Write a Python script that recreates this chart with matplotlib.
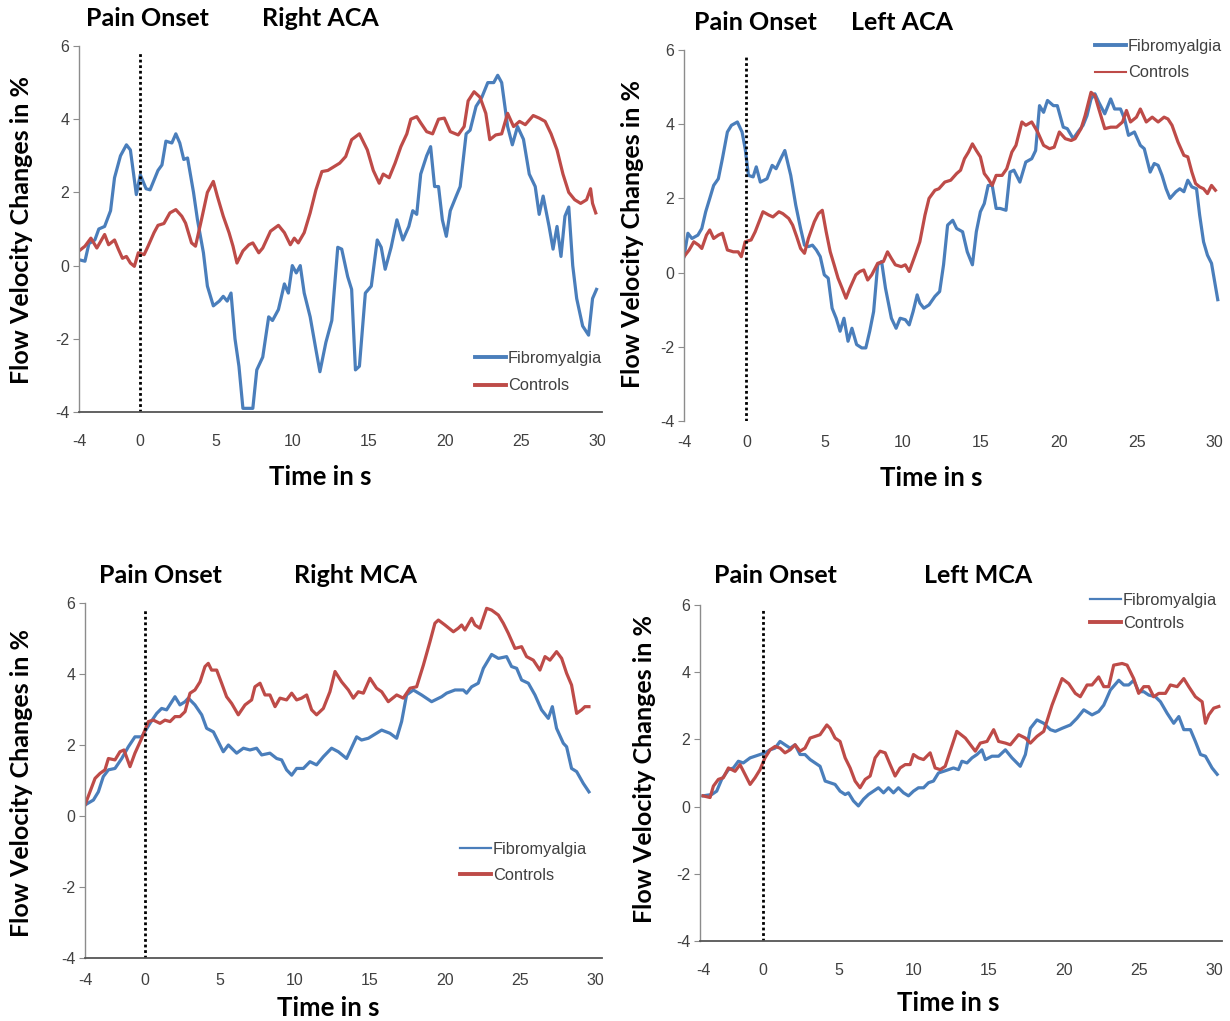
import numpy as np
import matplotlib
matplotlib.use("Agg")
import matplotlib.pyplot as plt

plt.rcParams["axes.unicode_minus"] = False

# ---------------- data ----------------
# Right ACA
t_raca_fib = [-4.0, -3.61, -3.35, -2.96, -2.70, -2.32, -1.93, -1.67, -1.28, -0.89,
              -0.63, -0.24, 0.02, 0.40, 0.66, 1.18, 1.44, 1.70, 2.09, 2.35,
              2.61, 2.87, 3.12, 3.51, 3.77, 4.16, 4.42, 4.81, 5.20, 5.46,
              5.72, 5.97, 6.23, 6.49, 6.75, 7.14, 7.40, 7.66, 8.05, 8.44,
              8.69, 9.08, 9.47, 9.73, 9.99, 10.25, 10.51, 10.77, 11.16, 11.54,
              11.80, 12.19, 12.58, 12.97, 13.23, 13.62, 13.88, 14.13, 14.39, 14.78,
              15.17, 15.56, 15.82, 16.08, 16.47, 16.85, 17.24, 17.63, 17.89, 18.15,
              18.41, 18.80, 19.06, 19.32, 19.58, 19.83, 20.09, 20.35, 20.74, 21.0,
              21.39, 21.65, 22.04, 22.42, 22.81, 23.20, 23.46, 23.72, 24.11, 24.42,
              24.76, 25.15, 25.53, 25.92, 26.18, 26.44, 26.83, 27.09, 27.35, 27.61,
              27.87, 28.12, 28.38, 28.64, 29.03, 29.42, 29.68, 29.94]
v_raca_fib = [0.16, 0.12, 0.6, 0.7, 1.0, 1.07, 1.5, 2.4, 3.0, 3.3,
              3.16, 1.94, 2.48, 2.1, 2.07, 2.6, 2.75, 3.4, 3.35, 3.6,
              3.35, 2.9, 2.94, 2.0, 1.25, 0.35, -0.56, -1.1, -0.97, -0.84,
              -0.97, -0.75, -2.0, -2.75, -3.9, -3.9, -3.9, -2.85, -2.5, -1.4,
              -1.5, -1.2, -0.5, -0.75, 0.0, -0.2, 0.0, -0.75, -1.4, -2.3,
              -2.9, -2.1, -1.5, 0.5, 0.45, -0.3, -0.65, -2.85, -2.75, -0.75,
              -0.56, 0.7, 0.5, -0.1, 0.5, 1.25, 0.7, 1.07, 1.5, 1.4,
              2.5, 3.0, 3.25, 2.16, 2.16, 1.25, 0.8, 1.5, 1.9, 2.16,
              3.6, 3.7, 4.35, 4.6, 5.0, 5.0, 5.2, 5.0, 3.8, 3.3,
              3.8, 3.45, 2.5, 2.16, 1.4, 1.9, 1.07, 0.45, 1.07, 0.25,
              1.35, 1.6, 0.0, -0.9, -1.65, -1.9, -0.9, -0.65]
t_raca_con = [-4.0, -3.61, -3.22, -2.83, -2.58, -2.32, -2.06, -1.67, -1.41, -1.15,
              -0.89, -0.63, -0.37, -0.11, 0.27, 0.53, 0.92, 1.18, 1.57, 1.96,
              2.35, 2.74, 2.99, 3.38, 3.64, 4.03, 4.42, 4.81, 5.07, 5.46,
              5.84, 6.10, 6.36, 6.75, 7.14, 7.40, 7.79, 8.05, 8.56, 9.08,
              9.47, 9.86, 10.12, 10.38, 10.77, 11.16, 11.54, 11.93, 12.32, 12.71,
              13.10, 13.49, 13.88, 14.39, 14.91, 15.30, 15.69, 15.95, 16.34, 16.73,
              17.11, 17.50, 17.76, 18.15, 18.41, 18.80, 19.19, 19.58, 19.96, 20.35,
              20.87, 21.26, 21.52, 21.91, 22.30, 22.68, 22.94, 23.33, 23.72, 24.11,
              24.50, 24.89, 25.27, 25.79, 26.18, 26.57, 26.96, 27.35, 27.74, 28.12,
              28.51, 28.90, 29.29, 29.55, 29.68, 29.89]
v_raca_con = [0.4, 0.53, 0.75, 0.48, 0.66, 0.85, 0.57, 0.7, 0.44, 0.2,
              0.25, 0.07, -0.02, 0.35, 0.3, 0.53, 0.9, 1.1, 1.15, 1.44,
              1.53, 1.35, 1.16, 0.62, 0.53, 1.25, 2.0, 2.3, 1.9, 1.35,
              0.9, 0.53, 0.07, 0.4, 0.57, 0.62, 0.35, 0.48, 0.94, 1.1,
              0.9, 0.57, 0.75, 0.62, 0.9, 1.44, 2.07, 2.57, 2.6, 2.7,
              2.8, 2.98, 3.44, 3.6, 3.16, 2.6, 2.25, 2.5, 2.4, 2.8,
              3.25, 3.6, 4.0, 4.07, 3.9, 3.66, 3.6, 4.0, 4.03, 3.66,
              3.57, 3.8, 4.5, 4.75, 4.6, 4.16, 3.44, 3.57, 3.6, 4.16,
              3.8, 3.94, 3.85, 4.1, 4.03, 3.94, 3.6, 3.16, 2.5, 2.0,
              1.8, 1.7, 1.8, 2.1, 1.7, 1.44]

# Left ACA
t_laca_fib = [-4.0, -3.75, -3.49, -3.11, -2.86, -2.61, -2.35, -2.10, -1.80, -1.54,
              -1.22, -0.96, -0.58, -0.28, -0.08, 0.13, 0.43, 0.63, 0.89, 1.32,
              1.65, 1.90, 2.20, 2.46, 2.84, 3.16, 3.47, 3.72, 3.97, 4.23,
              4.48, 4.73, 4.99, 5.24, 5.49, 5.75, 6.0, 6.25, 6.51, 6.76,
              7.06, 7.39, 7.65, 7.90, 8.15, 8.41, 8.66, 8.91, 9.29, 9.59,
              9.85, 10.18, 10.43, 10.68, 10.94, 11.11, 11.37, 11.70, 12.08, 12.38,
              12.63, 12.89, 13.22, 13.47, 13.85, 14.15, 14.48, 14.73, 14.99, 15.24,
              15.49, 15.75, 16.0, 16.25, 16.63, 16.89, 17.14, 17.52, 17.90, 18.28,
              18.53, 18.78, 19.04, 19.29, 19.67, 19.92, 20.30, 20.56, 20.94, 21.24,
              21.57, 21.82, 22.08, 22.33, 22.58, 22.96, 23.34, 23.59, 23.97, 24.23,
              24.48, 24.86, 25.24, 25.49, 25.87, 26.13, 26.38, 26.63, 26.89, 27.14,
              27.52, 27.77, 28.03, 28.28, 28.54, 28.84, 29.04, 29.29, 29.54, 29.80,
              30.0, 30.2]
v_laca_fib = [0.43, 1.06, 0.92, 1.01, 1.19, 1.64, 2.0, 2.35, 2.53, 3.07,
              3.79, 3.97, 4.06, 3.79, 3.34, 2.62, 2.58, 2.85, 2.44, 2.53,
              2.89, 2.80, 3.07, 3.29, 2.62, 1.82, 1.19, 0.74, 0.70, 0.74,
              0.61, 0.43, -0.06, -0.15, -0.96, -1.23, -1.58, -1.23, -1.85, -1.50,
              -1.94, -2.03, -2.03, -1.58, -1.05, 0.21, 0.30, -0.42, -1.23, -1.50,
              -1.23, -1.27, -1.41, -1.05, -0.60, -0.82, -0.96, -0.87, -0.64, -0.51,
              0.21, 1.28, 1.41, 1.19, 1.10, 0.56, 0.21, 1.10, 1.64, 1.86,
              2.35, 2.35, 1.73, 1.73, 1.68, 2.71, 2.76, 2.44, 2.98, 3.07,
              3.29, 4.50, 4.32, 4.64, 4.50, 4.50, 3.92, 3.88, 3.61, 3.79,
              3.97, 4.23, 4.68, 4.82, 4.59, 4.28, 4.68, 4.41, 4.41, 4.14,
              3.70, 3.79, 3.43, 3.34, 2.71, 2.94, 2.89, 2.62, 2.26, 2.0,
              2.18, 2.26, 2.18, 2.49, 2.31, 2.26, 1.55, 0.83, 0.47, 0.25,
              -0.24, -0.73]
t_laca_con = [-4.0, -3.67, -3.37, -3.06, -2.86, -2.56, -2.35, -2.10, -1.80, -1.54,
              -1.22, -0.84, -0.53, -0.33, -0.08, 0.30, 0.56, 0.81, 1.06, 1.44,
              1.70, 2.08, 2.33, 2.71, 2.96, 3.22, 3.47, 3.72, 3.97, 4.35,
              4.61, 4.86, 5.11, 5.37, 5.62, 5.87, 6.13, 6.38, 6.63, 7.01,
              7.27, 7.52, 7.77, 8.03, 8.41, 8.78, 9.04, 9.29, 9.54, 9.92,
              10.18, 10.43, 10.81, 11.11, 11.44, 11.70, 12.08, 12.33, 12.71, 13.09,
              13.47, 13.72, 13.97, 14.23, 14.48, 14.73, 14.99, 15.24, 15.49, 15.75,
              16.0, 16.38, 16.68, 17.01, 17.27, 17.65, 17.90, 18.28, 18.66, 19.04,
              19.42, 19.72, 20.05, 20.43, 20.81, 21.06, 21.44, 21.70, 22.08, 22.33,
              22.58, 22.96, 23.34, 23.72, 24.10, 24.35, 24.61, 24.99, 25.24, 25.62,
              26.0, 26.38, 26.76, 27.01, 27.27, 27.65, 28.03, 28.28, 28.54, 28.78,
              29.04, 29.29, 29.54, 29.80, 30.05]
v_laca_con = [0.43, 0.61, 0.83, 0.74, 0.65, 1.01, 1.15, 0.92, 1.01, 1.06,
              0.61, 0.56, 0.56, 0.43, 0.83, 0.88, 1.10, 1.37, 1.64, 1.55,
              1.50, 1.64, 1.59, 1.46, 1.28, 0.97, 0.65, 0.52, 0.92, 1.37,
              1.59, 1.68, 1.10, 0.56, 0.21, -0.15, -0.42, -0.69, -0.42, -0.06,
              0.03, 0.07, -0.20, -0.06, 0.25, 0.30, 0.56, 0.38, 0.21, 0.16,
              0.21, 0.03, 0.47, 0.83, 1.55, 2.0, 2.22, 2.26, 2.44, 2.49,
              2.67, 2.76, 3.07, 3.25, 3.47, 3.29, 3.12, 2.67, 2.53, 2.35,
              2.62, 2.62, 2.80, 3.25, 3.43, 4.06, 3.97, 4.06, 3.79, 3.43,
              3.34, 3.38, 3.79, 3.61, 3.56, 3.61, 3.88, 4.23, 4.86, 4.77,
              4.41, 3.88, 3.92, 3.92, 4.06, 4.37, 4.06, 4.19, 4.41, 4.06,
              4.19, 4.06, 4.19, 4.14, 3.97, 3.52, 3.16, 3.12, 2.71, 2.40,
              2.31, 2.26, 2.13, 2.35, 2.22]

# Right MCA
t_rmca_fib = [-4.0, -3.44, -3.11, -2.78, -2.44, -2.0, -1.55, -1.11, -0.67, -0.22,
              0.33, 0.78, 1.11, 1.44, 2.0, 2.33, 2.67, 2.89, 3.33, 3.78,
              4.11, 4.56, 4.89, 5.22, 5.56, 6.11, 6.56, 7.0, 7.44, 7.78,
              8.33, 8.78, 9.11, 9.44, 9.78, 10.11, 10.56, 11.0, 11.44, 11.89,
              12.44, 12.89, 13.44, 14.11, 14.44, 14.89, 15.78, 16.33, 16.78, 17.11,
              17.44, 17.89, 18.44, 19.11, 19.78, 20.11, 20.67, 21.22, 21.44, 21.78,
              22.22, 22.56, 23.11, 23.56, 24.11, 24.44, 24.78, 25.11, 25.56, 26.0,
              26.44, 26.89, 27.16, 27.44, 27.89, 28.11, 28.44, 28.78, 29.22, 29.6]
v_rmca_fib = [0.31, 0.45, 0.68, 1.11, 1.30, 1.34, 1.62, 1.95, 2.23, 2.23,
              2.61, 2.89, 3.03, 2.99, 3.36, 3.13, 3.22, 3.32, 3.13, 2.85,
              2.47, 2.37, 2.09, 1.81, 2.0, 1.77, 1.91, 1.86, 1.91, 1.72,
              1.77, 1.62, 1.58, 1.30, 1.15, 1.34, 1.34, 1.53, 1.44, 1.67,
              1.91, 1.81, 1.62, 2.23, 2.14, 2.19, 2.42, 2.33, 2.19, 2.66,
              3.41, 3.55, 3.41, 3.22, 3.36, 3.46, 3.55, 3.55, 3.46, 3.64,
              3.74, 4.16, 4.55, 4.44, 4.49, 4.21, 4.16, 3.83, 3.74, 3.41,
              2.99, 2.75, 3.08, 2.47, 2.05, 1.95, 1.34, 1.25, 0.92, 0.68]
t_rmca_con = [-4.0, -3.67, -3.33, -3.0, -2.67, -2.44, -2.0, -1.67, -1.4, -1.0,
              -0.67, -0.22, 0.22, 0.56, 1.0, 1.33, 1.67, 2.0, 2.33, 2.67,
              3.0, 3.33, 3.67, 4.0, 4.22, 4.44, 4.78, 5.11, 5.44, 5.78,
              6.22, 6.67, 7.11, 7.33, 7.67, 8.0, 8.33, 8.67, 9.0, 9.44,
              9.78, 10.11, 10.44, 10.78, 11.11, 11.44, 11.89, 12.33, 12.67, 13.11,
              13.56, 13.89, 14.22, 14.56, 15.0, 15.44, 15.78, 16.22, 16.78, 17.22,
              17.67, 18.11, 18.56, 19.0, 19.33, 19.56, 20.0, 20.56, 20.89, 21.11,
              21.33, 21.78, 22.0, 22.33, 22.78, 23.11, 23.56, 23.89, 24.22, 24.67,
              25.11, 25.44, 25.89, 26.33, 26.67, 27.0, 27.44, 27.78, 28.11, 28.44,
              28.78, 29.11, 29.33, 29.6]
v_rmca_con = [0.31, 0.68, 1.06, 1.20, 1.30, 1.62, 1.58, 1.81, 1.86, 1.39,
              1.77, 2.19, 2.66, 2.70, 2.61, 2.70, 2.66, 2.80, 2.80, 2.94,
              3.46, 3.55, 3.78, 4.21, 4.30, 4.11, 4.11, 3.74, 3.36, 3.17,
              2.85, 3.13, 3.27, 3.64, 3.74, 3.41, 3.41, 3.08, 3.32, 3.27,
              3.46, 3.27, 3.32, 3.41, 2.99, 2.85, 3.03, 3.50, 4.07, 3.78,
              3.55, 3.32, 3.50, 3.46, 3.88, 3.60, 3.50, 3.22, 3.41, 3.32,
              3.60, 3.64, 4.25, 4.91, 5.43, 5.52, 5.38, 5.19, 5.29, 5.38,
              5.24, 5.57, 5.38, 5.29, 5.85, 5.80, 5.66, 5.43, 5.15, 4.72,
              4.77, 4.49, 4.39, 4.11, 4.49, 4.39, 4.63, 4.44, 4.02, 3.69,
              2.89, 2.99, 3.08, 3.08]

# Left MCA
t_lmca_fib = [-4.0, -3.42, -3.09, -2.76, -2.31, -1.98, -1.65, -1.32, -0.87, -0.54,
              -0.21, 0.12, 0.46, 0.79, 1.12, 1.45, 1.79, 2.12, 2.45, 2.78,
              3.12, 3.45, 3.78, 4.12, 4.45, 4.78, 5.11, 5.45, 5.67, 6.0,
              6.33, 6.67, 7.0, 7.33, 7.66, 8.0, 8.33, 8.66, 8.99, 9.33,
              9.66, 9.99, 10.32, 10.66, 10.99, 11.32, 11.65, 11.99, 12.32, 12.65,
              12.98, 13.21, 13.55, 13.88, 14.21, 14.54, 14.77, 15.21, 15.65, 16.1,
              16.54, 17.09, 17.43, 17.76, 18.2, 18.65, 19.09, 19.42, 19.87, 20.42,
              20.86, 21.31, 21.86, 22.30, 22.64, 23.08, 23.64, 23.97, 24.3, 24.63,
              24.96, 25.3, 25.63, 26.07, 26.41, 26.85, 27.29, 27.63, 27.96, 28.4,
              28.73, 29.07, 29.4, 29.84, 30.18]
v_lmca_fib = [0.32, 0.36, 0.46, 0.81, 1.10, 1.15, 1.35, 1.30, 1.45, 1.50,
              1.55, 1.60, 1.69, 1.74, 1.94, 1.84, 1.74, 1.84, 1.55, 1.55,
              1.40, 1.30, 1.20, 0.76, 0.71, 0.66, 0.46, 0.36, 0.41, 0.17,
              0.02, 0.22, 0.36, 0.46, 0.56, 0.41, 0.56, 0.41, 0.56, 0.41,
              0.32, 0.46, 0.56, 0.56, 0.71, 0.76, 1.0, 1.05, 1.10, 1.15,
              1.10, 1.35, 1.30, 1.45, 1.55, 1.69, 1.40, 1.50, 1.50, 1.69,
              1.45, 1.20, 1.55, 2.33, 2.58, 2.48, 2.29, 2.24, 2.33, 2.43,
              2.63, 2.88, 2.73, 2.83, 3.02, 3.47, 3.76, 3.62, 3.62, 3.76,
              3.42, 3.42, 3.32, 3.27, 3.12, 2.78, 2.48, 2.68, 2.29, 2.29,
              1.94, 1.55, 1.50, 1.15, 0.96]
t_lmca_con = [-4.0, -3.53, -3.31, -2.98, -2.65, -2.31, -1.87, -1.54, -1.21, -0.87,
              -0.54, -0.21, 0.12, 0.46, 0.79, 1.12, 1.45, 1.79, 2.12, 2.45,
              2.78, 3.12, 3.45, 3.78, 4.23, 4.45, 4.78, 5.11, 5.45, 5.78,
              6.11, 6.44, 6.78, 7.11, 7.44, 7.77, 8.11, 8.44, 8.77, 9.10,
              9.44, 9.77, 9.99, 10.32, 10.66, 11.10, 11.43, 11.77, 12.10, 12.43,
              12.87, 13.44, 14.1, 14.43, 14.88, 15.32, 15.65, 16.1, 16.43, 16.98,
              17.43, 17.76, 18.2, 18.65, 19.2, 19.87, 20.31, 20.75, 21.08, 21.53,
              21.86, 22.30, 22.64, 22.97, 23.30, 23.86, 24.19, 24.63, 24.96, 25.3,
              25.63, 25.96, 26.3, 26.74, 27.07, 27.52, 27.96, 28.29, 28.73, 29.18,
              29.4, 29.62, 29.95, 30.29]
v_lmca_con = [0.32, 0.27, 0.61, 0.81, 0.86, 1.15, 1.05, 1.25, 0.96, 0.66,
              0.86, 1.10, 1.45, 1.69, 1.79, 1.74, 1.60, 1.69, 1.84, 1.65,
              1.74, 2.04, 2.09, 2.14, 2.43, 2.33, 2.04, 1.94, 1.45, 1.15,
              0.76, 0.56, 0.81, 0.91, 1.45, 1.65, 1.60, 1.25, 0.91, 1.15,
              1.25, 1.25, 1.55, 1.45, 1.40, 1.60, 1.15, 1.10, 1.20, 1.65,
              2.24, 2.04, 1.65, 1.89, 1.94, 2.29, 1.94, 1.89, 1.84, 2.14,
              2.04, 1.89, 2.09, 2.24, 3.02, 3.81, 3.66, 3.37, 3.27, 3.62,
              3.62, 3.86, 3.57, 3.57, 4.21, 4.26, 4.21, 3.81, 3.37, 3.57,
              3.57, 3.27, 3.37, 3.37, 3.62, 3.57, 3.81, 3.57, 3.27, 3.12,
              2.48, 2.73, 2.93, 2.98]

x_ticks = [-4, 0, 5, 10, 15, 20, 25, 30]
y_ticks = [-4, -2, 0, 2, 4, 6]

BLUE = "#4a7ebb"
RED = "#be4b48"
W, H = 1230, 1021
BOLD = ["Lato", "DejaVu Sans"]
PLAIN = ["Liberation Sans", "DejaVu Sans"]

fig = plt.figure(figsize=(W / 100, H / 100), dpi=100)


def px(x, y):
    # pixel position -> figure fraction
    return x / W, 1 - y / H


def panel(box, xlim, fib, con, name, title_xy, ylab_xy, xlab_xy, leg_xy,
          leg_lw, bottom_line=True, xpad=18, leg_space=0.7):
    x0, y0, x1, y1 = box
    ax = fig.add_axes([x0 / W, 1 - y1 / H, (x1 - x0) / W, (y1 - y0) / H])
    ax.plot(fib[0], fib[1], color=BLUE, lw=2.3, label="Fibromyalgia",
            solid_joinstyle="round")
    ax.plot(con[0], con[1], color=RED, lw=2.3, label="Controls",
            solid_joinstyle="round")
    ax.plot([0, 0], [-4, 5.85], color="black", lw=2, ls=(0, (1, 1)))
    ax.set_xlim(*xlim)
    ax.set_ylim(-4, 6)
    ax.set_xticks(x_ticks)
    ax.set_yticks(y_ticks)
    for s in ("top", "right"):
        ax.spines[s].set_visible(False)
    ax.spines["left"].set_color("#8c8c8c")
    ax.spines["left"].set_linewidth(1)
    if bottom_line:
        ax.spines["bottom"].set_color("#555555")
        ax.spines["bottom"].set_linewidth(1.3)
    else:
        ax.spines["bottom"].set_visible(False)
    ax.tick_params(axis="y", length=4, color="#8c8c8c", labelsize=11.5,
                   labelcolor="#404040", pad=3)
    ax.tick_params(axis="x", length=0, labelsize=11.5, labelcolor="#404040",
                   pad=xpad)
    for lab in ax.get_xticklabels() + ax.get_yticklabels():
        lab.set_family(PLAIN)

    fig.text(*px(*title_xy[0]), "Pain Onset", ha="center", va="center",
             fontsize=18, weight="bold", family=BOLD)
    fig.text(*px(*title_xy[1]), name, ha="center", va="center",
             fontsize=18, weight="bold", family=BOLD)
    fig.text(*px(*ylab_xy), "Flow Velocity Changes in %", ha="center",
             va="center", rotation=90, fontsize=18, weight="bold", family=BOLD)
    fig.text(*px(*xlab_xy), "Time in s", ha="center", va="center",
             fontsize=18.5, weight="bold", family=BOLD)

    leg = ax.legend(loc="upper left", bbox_to_anchor=px(*leg_xy),
                    bbox_transform=fig.transFigure, frameon=False,
                    prop={"family": PLAIN, "size": 11.8}, handlelength=1.9,
                    handletextpad=0.1, labelspacing=leg_space, borderpad=0,
                    borderaxespad=0)
    for line, lw in zip(leg.get_lines(), leg_lw):
        line.set_linewidth(lw)
    for txt in leg.get_texts():
        txt.set_color("#404040")
    return ax


panel((79, 46, 602, 412), (-4, 30.3),
      (t_raca_fib, v_raca_fib), (t_raca_con, v_raca_con), "Right ACA",
      [(147, 18), (320, 18)], (22, 230), (320, 477), (475, 351), (2.8, 2.8),
      xpad=16, leg_space=0.75)

panel((684, 50, 1224, 421), (-4, 30.6),
      (t_laca_fib, v_laca_fib), (t_laca_con, v_laca_con), "Left ACA",
      [(755, 23), (902, 23)], (632, 234), (931, 478), (1095, 39), (2.8, 1.5),
      bottom_line=False, xpad=10, leg_space=0.7)

panel((85, 603, 602, 958), (-4, 30.47),
      (t_rmca_fib, v_rmca_fib), (t_rmca_con, v_rmca_con), "Right MCA",
      [(160, 575), (356, 575)], (22, 783), (328, 1008), (460, 842), (1.6, 2.8),
      xpad=11, leg_space=0.65)

panel((700, 605, 1222, 941), (-4.2, 30.5),
      (t_lmca_fib, v_lmca_fib), (t_lmca_con, v_lmca_con), "Left MCA",
      [(775, 575), (978, 575)], (645, 769), (948, 1003), (1090, 593), (1.6, 2.8),
      xpad=16, leg_space=0.5)

fig.savefig("out.png", dpi=100)
